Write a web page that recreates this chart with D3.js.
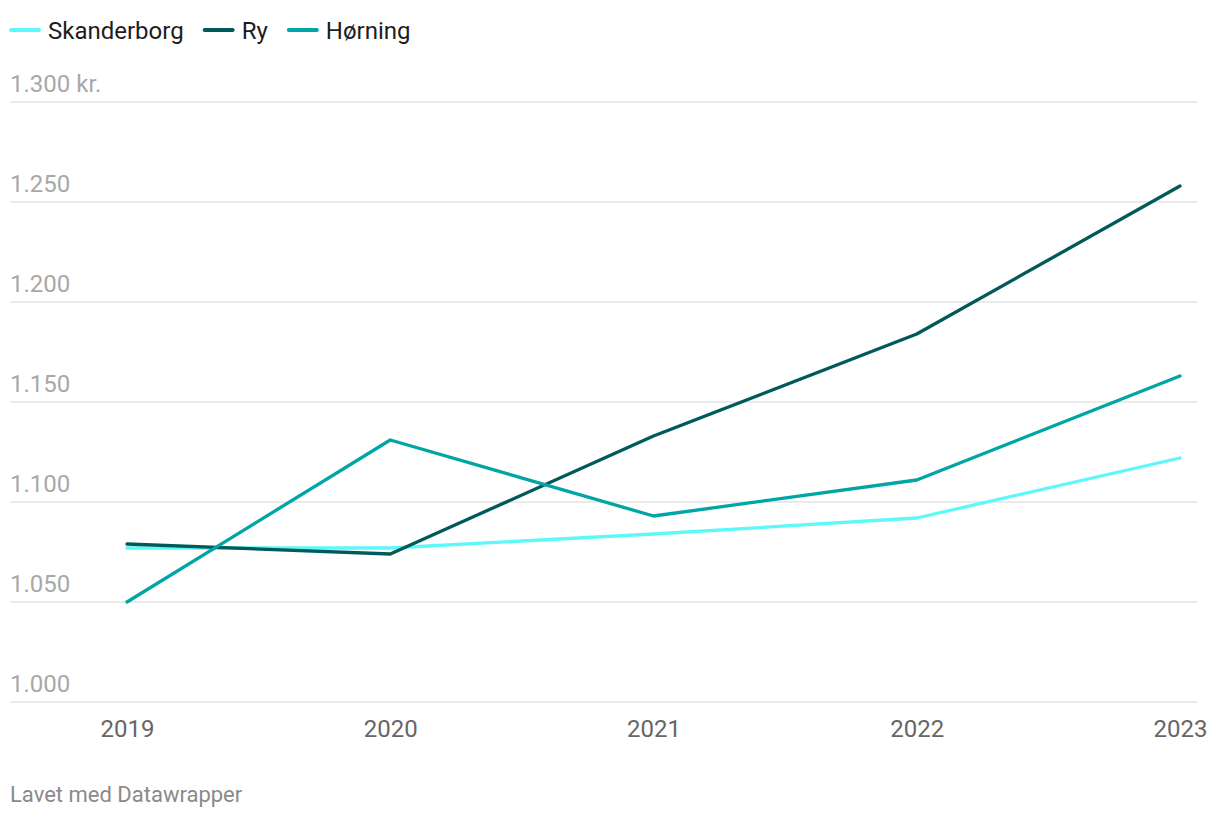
<!DOCTYPE html>
<html>
<head>
<meta charset="utf-8">
<script src="https://cdn.jsdelivr.net/npm/d3@7"></script>
<style>
  body { margin: 0; background: #fff; font-family: Roboto, "Noto Sans", sans-serif; }
</style>
</head>
<body>
<div id="chart"></div>
<script>
// data
const years = [2019, 2020, 2021, 2022, 2023];
const skanderborg = [1077, 1077, 1084, 1092, 1122];
const ry = [1079, 1074, 1133, 1184, 1258];
const horning = [1050, 1131, 1093, 1111, 1163];
const yTicks = [1000, 1050, 1100, 1150, 1200, 1250, 1300];

const series = [
  { name: "Skanderborg", values: skanderborg, color: "#5cf8fa" },
  { name: "Ry", values: ry, color: "#005a5a" },
  { name: "Hørning", values: horning, color: "#00a5a5" }
];

const width = 1220, height = 818;
const gridLeft = 10, gridRight = 1197;

const svg = d3.select("#chart").append("svg")
  .attr("width", width)
  .attr("height", height);

const x = d3.scalePoint().domain(years).range([127, 1180]);
const y = d3.scaleLinear().domain([1000, 1300]).range([702, 102]);

const fmt = v => d3.format(",")(v).replace(/,/g, ".");

// gridlines + y labels
const grid = svg.append("g");
grid.selectAll("line").data(yTicks).join("line")
  .attr("x1", gridLeft).attr("x2", gridRight)
  .attr("y1", d => y(d)).attr("y2", d => y(d))
  .attr("stroke", "#e3e3e3")
  .attr("stroke-width", 1.5);

grid.selectAll("text").data(yTicks).join("text")
  .attr("x", gridLeft)
  .attr("y", d => y(d) - 10)
  .attr("fill", "#a8a8a8")
  .style("font-size", "24px")
  .text((d, i) => i === yTicks.length - 1 ? fmt(d) + " kr." : fmt(d));

// x axis labels
const xAxis = d3.axisBottom(x).tickSize(0).tickPadding(0);
const gx = svg.append("g")
  .attr("transform", "translate(0,719)")
  .call(xAxis);
gx.select(".domain").remove();
gx.selectAll("text")
  .attr("fill", "#666")
  .attr("dy", "0.76em")
  .style("font-size", "24px")
  .style("font-family", "Roboto, sans-serif");

// lines
const line = d3.line()
  .x((d, i) => x(years[i]))
  .y(d => y(d));

svg.append("g").selectAll("path").data(series).join("path")
  .attr("d", d => line(d.values))
  .attr("fill", "none")
  .attr("stroke", d => d.color)
  .attr("stroke-width", 3.3)
  .attr("stroke-linejoin", "round")
  .attr("stroke-linecap", "round");

// legend
const legend = svg.append("g").attr("transform", "translate(10,30)");
let lx = 0;
series.forEach(s => {
  const g = legend.append("g").attr("transform", `translate(${lx},0)`);
  g.append("line")
    .attr("x1", 1).attr("x2", 29)
    .attr("y1", 0).attr("y2", 0)
    .attr("stroke", s.color)
    .attr("stroke-width", 4)
    .attr("stroke-linecap", "round");
  const t = g.append("text")
    .attr("x", 38)
    .attr("y", 9)
    .attr("fill", "#1d1d1d")
    .style("font-size", "24px")
    .text(s.name);
  lx += 38 + t.node().getComputedTextLength() + 20;
});

// footer
svg.append("text")
  .attr("x", 10)
  .attr("y", 802)
  .attr("fill", "#8a8a8a")
  .style("font-size", "22px")
  .text("Lavet med Datawrapper");
</script>
</body>
</html>
